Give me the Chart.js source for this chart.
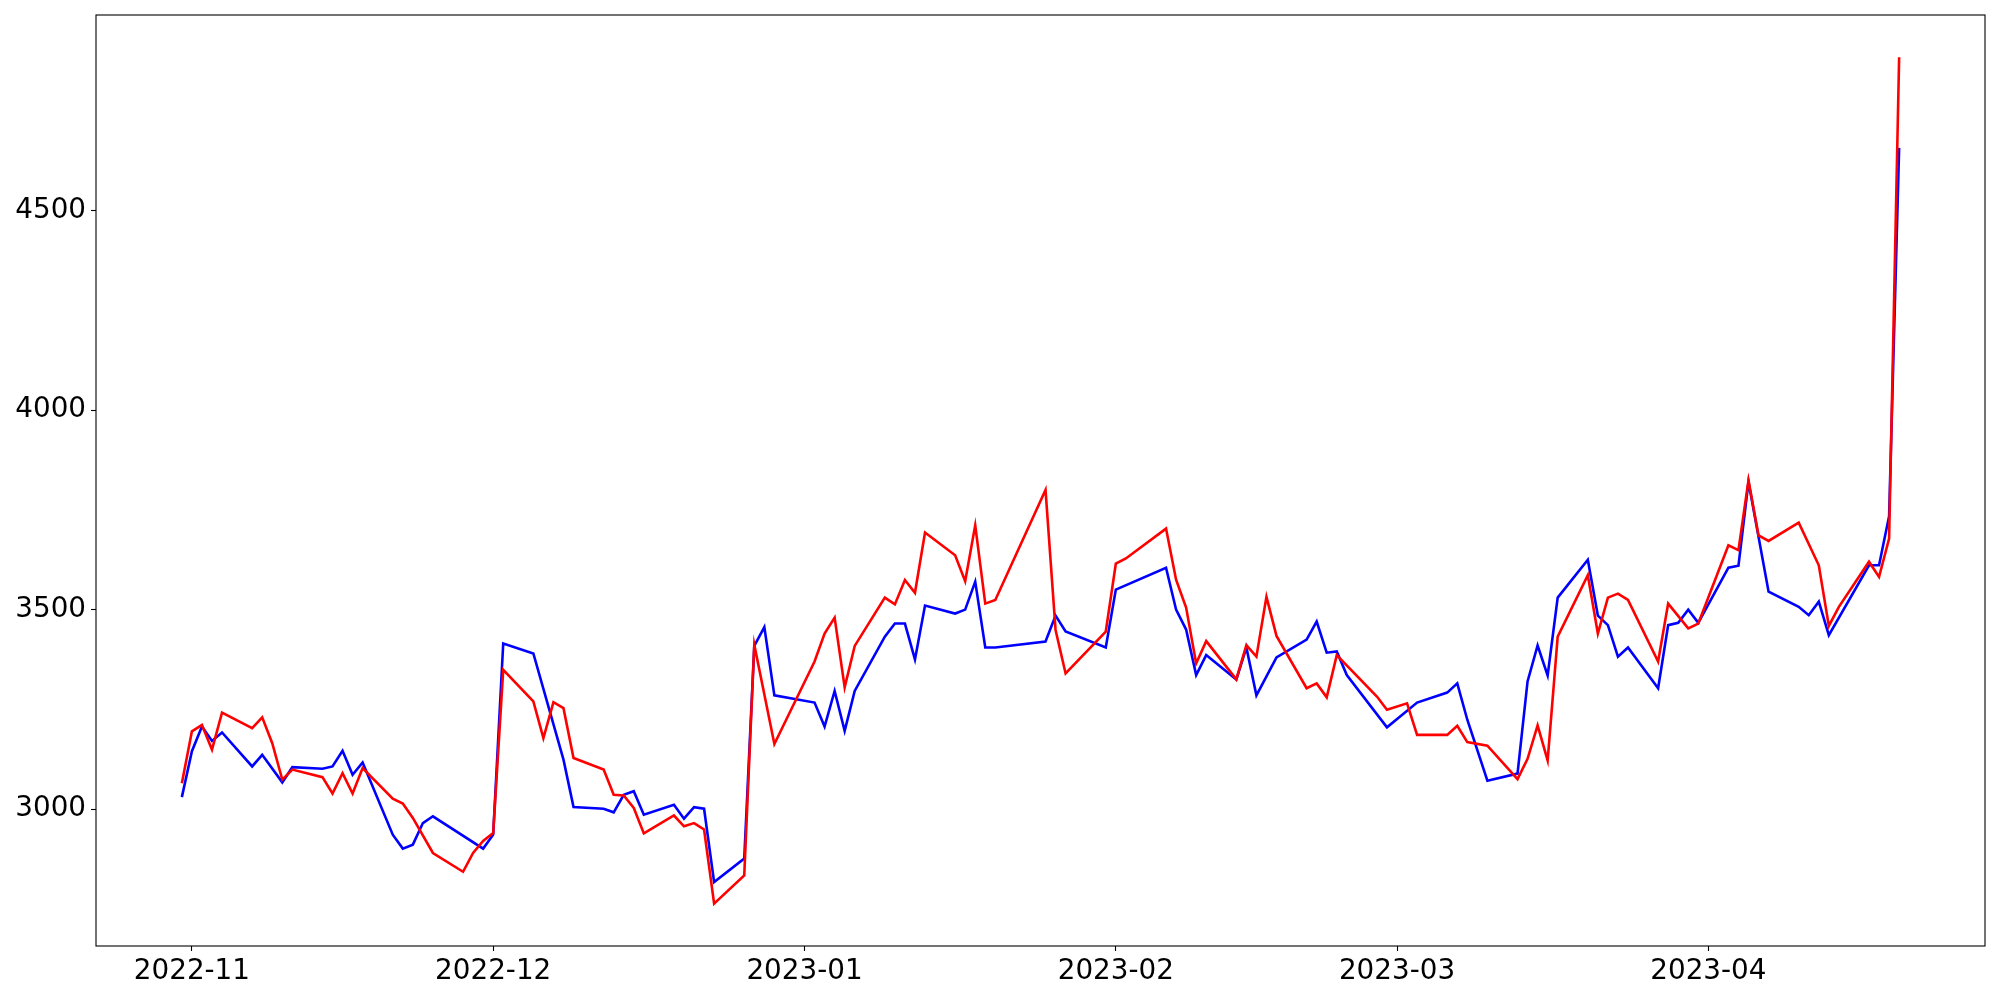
<!DOCTYPE html>
<html>
<head>
<meta charset="utf-8">
<style>
html,body{margin:0;padding:0;background:#fff;}
canvas{display:block;}
</style>
<script src="https://cdn.jsdelivr.net/npm/chart.js@4.4.1/dist/chart.umd.min.js"></script>
</head>
<body>
<canvas id="c" width="2000" height="1000"></canvas>
<script>
// ---- data ----
const monthTicks = ['2022-11-01','2022-12-01','2023-01-01','2023-02-01','2023-03-01','2023-04-01'];
const monthLabels = ['2022-11','2022-12','2023-01','2023-02','2023-03','2023-04'];
const yTicks = [3000, 3500, 4000, 4500];

const redDates = [
 '2022-10-31','2022-11-01','2022-11-02','2022-11-03','2022-11-04','2022-11-07','2022-11-08','2022-11-09','2022-11-10','2022-11-11','2022-11-14','2022-11-15','2022-11-16','2022-11-17','2022-11-18','2022-11-21','2022-11-22','2022-11-23','2022-11-25','2022-11-28','2022-11-29','2022-11-30',
 '2022-12-01','2022-12-02','2022-12-05','2022-12-06','2022-12-07','2022-12-08','2022-12-09','2022-12-12','2022-12-13','2022-12-14','2022-12-15','2022-12-16','2022-12-19','2022-12-20','2022-12-21','2022-12-22','2022-12-23','2022-12-26','2022-12-27','2022-12-29',
 '2023-01-02','2023-01-03','2023-01-04','2023-01-05','2023-01-06','2023-01-09','2023-01-10','2023-01-11','2023-01-12','2023-01-13','2023-01-16','2023-01-17','2023-01-18','2023-01-19','2023-01-20','2023-01-25','2023-01-26','2023-01-27','2023-01-31',
 '2023-02-01','2023-02-02','2023-02-06','2023-02-07','2023-02-08','2023-02-09','2023-02-10','2023-02-13','2023-02-14','2023-02-15','2023-02-16','2023-02-17','2023-02-20','2023-02-21','2023-02-22','2023-02-23','2023-02-27','2023-02-28',
 '2023-03-02','2023-03-03','2023-03-06','2023-03-07','2023-03-08','2023-03-10','2023-03-13','2023-03-14','2023-03-15','2023-03-16','2023-03-17','2023-03-20','2023-03-21','2023-03-22','2023-03-23','2023-03-24','2023-03-27','2023-03-28','2023-03-30','2023-03-31',
 '2023-04-03','2023-04-04','2023-04-05','2023-04-06','2023-04-07','2023-04-10','2023-04-12','2023-04-13','2023-04-14','2023-04-17','2023-04-18','2023-04-19','2023-04-20'
];
const redValues = [
 3065,3195,3211,3149,3242,3203,3230,3165,3074,3099,3080,3039,3090,3039,3103,3026,3014,2978,2890,2843,2890,2920,
 2940,3349,3270,3178,3268,3253,3128,3099,3036,3034,3003,2939,2984,2957,2965,2949,2763,2834,3412,3163,
 3370,3440,3480,3305,3409,3530,3513,3574,3542,3693,3636,3571,3711,3515,3524,3800,3449,3340,3445,
 3615,3628,3703,3575,3505,3365,3421,3325,3411,3382,3532,3434,3303,3315,3280,3386,3282,3249,
 3265,3186,3186,3209,3168,3159,3075,3126,3210,3122,3432,3586,3440,3530,3540,3524,3370,3515,3453,3465,
 3661,3649,3824,3686,3672,3718,3611,3459,3507,3620,3582,3678,4884
];

const blueDates = [
 '2022-10-31','2022-11-01','2022-11-02','2022-11-03','2022-11-04','2022-11-07','2022-11-08','2022-11-10','2022-11-11','2022-11-14','2022-11-15','2022-11-16','2022-11-17','2022-11-18','2022-11-21','2022-11-22','2022-11-23','2022-11-24','2022-11-25','2022-11-30',
 '2022-12-01','2022-12-02','2022-12-05','2022-12-08','2022-12-09','2022-12-12','2022-12-13','2022-12-14','2022-12-15','2022-12-16','2022-12-19','2022-12-20','2022-12-21','2022-12-22','2022-12-23','2022-12-26','2022-12-27','2022-12-28','2022-12-29',
 '2023-01-02','2023-01-03','2023-01-04','2023-01-05','2023-01-06','2023-01-09','2023-01-10','2023-01-11','2023-01-12','2023-01-13','2023-01-16','2023-01-17','2023-01-18','2023-01-19','2023-01-20','2023-01-25','2023-01-26','2023-01-27','2023-01-31',
 '2023-02-01','2023-02-06','2023-02-07','2023-02-08','2023-02-09','2023-02-10','2023-02-13','2023-02-14','2023-02-15','2023-02-17','2023-02-20','2023-02-21','2023-02-22','2023-02-23','2023-02-24','2023-02-28',
 '2023-03-03','2023-03-06','2023-03-07','2023-03-08','2023-03-10','2023-03-13','2023-03-14','2023-03-15','2023-03-16','2023-03-17','2023-03-20','2023-03-21','2023-03-22','2023-03-23','2023-03-24','2023-03-27','2023-03-28','2023-03-29','2023-03-30','2023-03-31',
 '2023-04-03','2023-04-04','2023-04-05','2023-04-07','2023-04-10','2023-04-11','2023-04-12','2023-04-13','2023-04-17','2023-04-18','2023-04-19','2023-04-20'
];
const blueValues = [
 3030,3145,3207,3171,3192,3107,3136,3067,3105,3101,3107,3146,3086,3117,2936,2901,2911,2965,2982,2901,
 2936,3415,3390,3124,3005,3001,2992,3036,3045,2986,3011,2976,3005,3001,2817,2876,3409,3456,3285,
 3267,3207,3296,3196,3296,3432,3465,3465,3375,3510,3490,3500,3570,3405,3405,3420,3485,3445,3405,
 3550,3605,3500,3450,3336,3386,3325,3405,3285,3380,3425,3470,3392,3395,3336,3205,
 3267,3292,3315,3224,3071,3089,3320,3410,3335,3530,3625,3485,3461,3382,3405,3303,3461,3467,3500,3467,
 3605,3610,3820,3545,3507,3486,3520,3436,3611,3611,3734,4657
];

// ---- build ----
const DAY = 86400000;
const toDay = s => Date.parse(s) / DAY;
const redPts = redDates.map((d, i) => ({x: toDay(d), y: redValues[i]}));
const bluePts = blueDates.map((d, i) => ({x: toDay(d), y: blueValues[i]}));

const allX = redPts.concat(bluePts).map(p => p.x);
const allY = redPts.concat(bluePts).map(p => p.y);
const xLo = Math.min(...allX), xHi = Math.max(...allX);
const yLo = Math.min(...allY), yHi = Math.max(...allY);
const xPad = (xHi - xLo) * 0.05, yPad = (yHi - yLo) * 0.05;

const tickValueToLabel = {};
monthTicks.forEach((m, i) => { tickValueToLabel[toDay(m)] = monthLabels[i]; });

const FONT = {family: "'DejaVu Sans', sans-serif", size: 27.8};

const framePlugin = {
  id: 'frame',
  afterDraw(chart) {
    const a = chart.chartArea, ctx = chart.ctx;
    ctx.save();
    ctx.strokeStyle = '#000';
    ctx.lineWidth = 1.1;
    ctx.strokeRect(a.left, a.top, a.right - a.left, a.bottom - a.top);
    ctx.restore();
  }
};

new Chart(document.getElementById('c'), {
  type: 'line',
  data: {
    datasets: [
      {data: redPts, borderColor: '#ff0000', borderWidth: 2.6, pointRadius: 0, tension: 0, fill: false},
      {data: bluePts, borderColor: '#0000ff', borderWidth: 2.6, pointRadius: 0, tension: 0, fill: false}
    ]
  },
  options: {
    responsive: false,
    animation: false,
    devicePixelRatio: 1,
    layout: {padding: {left: 0, right: 15, top: 15, bottom: 0}},
    plugins: {legend: {display: false}, tooltip: {enabled: false}},
    scales: {
      x: {
        type: 'linear',
        min: xLo - xPad,
        max: xHi + xPad,
        grid: {display: true, drawOnChartArea: false, drawTicks: true, tickLength: 5, tickColor: '#000', tickWidth: 1.1},
        border: {display: false},
        ticks: {color: '#000', font: FONT, padding: 4, autoSkip: false, maxRotation: 0, minRotation: 0,
                callback: v => tickValueToLabel[v] || ''},
        afterBuildTicks: s => { s.ticks = monthTicks.map(m => ({value: toDay(m)})); },
        afterFit: s => { s.height = 54; s.paddingLeft = 0; s.paddingRight = 0; }
      },
      y: {
        type: 'linear',
        min: yLo - yPad,
        max: yHi + yPad,
        grid: {display: true, drawOnChartArea: false, drawTicks: true, tickLength: 5, tickColor: '#000', tickWidth: 1.1},
        border: {display: false},
        ticks: {color: '#000', font: FONT, padding: 5, callback: v => String(v)},
        afterBuildTicks: s => { s.ticks = yTicks.map(v => ({value: v})); },
        afterFit: s => { s.width = 96; s.paddingTop = 0; s.paddingBottom = 0; }
      }
    }
  },
  plugins: [framePlugin]
});
</script>
</body>
</html>
